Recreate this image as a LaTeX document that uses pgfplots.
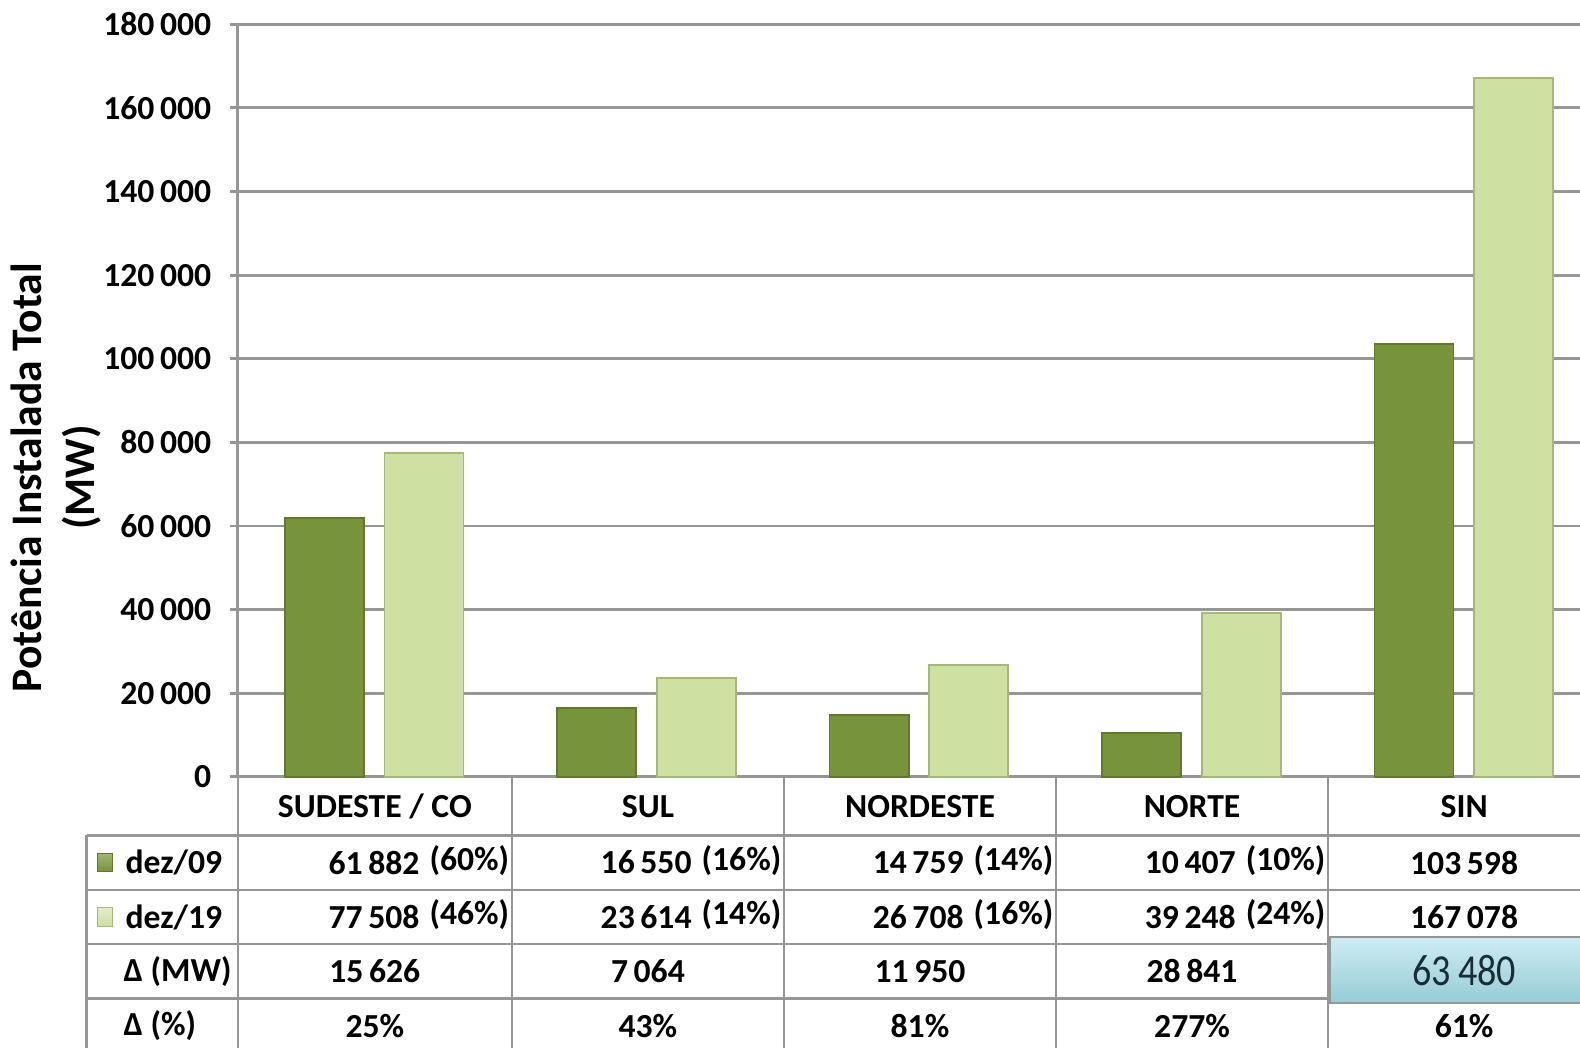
\documentclass[border=0pt]{standalone}
\usepackage{fontspec}
\setmainfont{Carlito}
\newfontfamily\cond{Carlito}[FakeStretch=0.86]
\usepackage{pgfplots}
\pgfplotsset{compat=1.18}

\definecolor{darkgr}{RGB}{119,147,60}
\definecolor{darkgredge}{RGB}{96,122,45}
\definecolor{lightgr}{RGB}{206,224,162}
\definecolor{lightgredge}{RGB}{165,184,120}
\definecolor{rulegray}{RGB}{150,150,150}
\definecolor{boxtop}{RGB}{205,236,242}
\definecolor{boxbot}{RGB}{150,204,214}
\definecolor{boxtext}{RGB}{25,45,55}

\begin{document}
\begin{tikzpicture}
% 1 px of the (displayed) reference = 0.01 cm, origin at the top left corner
\begin{axis}[
    at={(2.36cm,-7.71cm)}, anchor=south west,
    scale only axis,
    width=13.52cm, height=7.47cm,
    xmin=0, xmax=5, ymin=0, ymax=180000,
    axis x line*=bottom, axis y line*=left,
    axis line style={draw=rulegray, line width=0.8pt},
    ymajorgrids,
    grid style={draw=rulegray, line width=0.8pt},
    xtick=\empty,
    ytick={0,20000,...,180000},
    yticklabels={0,20\,000,40\,000,60\,000,80\,000,100\,000,120\,000,140\,000,160\,000,180\,000},
    yticklabel style={font=\bfseries\fontsize{9.5}{11}\selectfont, xshift=-0.06cm},
    tick align=outside,
    major tick length=0.08cm,
    tick style={draw=rulegray, line width=0.8pt},
    scaled y ticks=false,
    clip=false,
]
\addplot[ybar, bar width=0.29, bar shift=-0.183, draw=darkgredge, fill=darkgr, line width=0.5pt]
    coordinates {(0.5,61882) (1.5,16550) (2.5,14759) (3.5,10407) (4.5,103598)};
\addplot[ybar, bar width=0.29, bar shift=0.183, draw=lightgredge, fill=lightgr, line width=0.5pt]
    coordinates {(0.5,77508) (1.5,23614) (2.5,26708) (3.5,39248) (4.5,167078)};
\end{axis}

% data table under the bars
\begin{scope}[draw=rulegray, line width=0.7pt]
\draw (2.36,-7.71) -- (2.36,-10.6);
\draw (0.86,-8.29) -- (0.86,-10.6);
\foreach \y in {8.29,8.83,9.37,9.91} \draw (0.86,-\y) -- (16.2,-\y);
\foreach \x in {5.08,7.78,10.48,13.18} \draw (\x,-7.71) -- (\x,-10.6);
\end{scope}

\begin{scope}[font=\bfseries\fontsize{9.5}{11}\selectfont]
\foreach \c/\name in {3.72/{SUDESTE / CO}, 6.43/SUL, 9.13/NORDESTE, 11.83/NORTE, 14.53/SIN}
  \node at (\c,-8.00) {\name};
% dez/09 and dez/19 rows: value and share
\foreach \r/\v/\p in {5.08/61\,882/(60\%), 7.78/16\,550/(16\%), 10.48/14\,759/(14\%), 13.18/10\,407/(10\%)}{
  \node[anchor=east, inner sep=0pt] at (\r-0.91,-8.56) {\v};
  \node[anchor=east, inner sep=0pt] at (\r-0.02,-8.54) {\p};
}
\foreach \r/\v/\p in {5.08/77\,508/(46\%), 7.78/23\,614/(14\%), 10.48/26\,708/(16\%), 13.18/39\,248/(24\%)}{
  \node[anchor=east, inner sep=0pt] at (\r-0.91,-9.10) {\v};
  \node[anchor=east, inner sep=0pt] at (\r-0.02,-9.08) {\p};
}
\node at (14.53,-8.56) {103\,598};
\node at (14.53,-9.10) {167\,078};
\foreach \c/\v in {3.72/15\,626, 6.43/7\,064, 9.13/11\,950, 11.83/28\,841}
  \node at (\c,-9.64) {\v};
\foreach \c/\v in {3.72/25\%, 6.43/43\%, 9.13/81\%, 11.83/277\%, 14.53/61\%}
  \node at (\c,-10.18) {\v};
% row labels
\shade[top color=darkgr!70!white, bottom color=darkgr, draw=darkgredge, line width=0.3pt]
  (0.97,-8.47) rectangle (1.12,-8.65);
\shade[top color=lightgr!60!white, bottom color=lightgr, draw=lightgredge, line width=0.3pt]
  (0.97,-9.01) rectangle (1.12,-9.19);
\node[anchor=west, inner sep=0pt] at (1.24,-8.56) {dez/09};
\node[anchor=west, inner sep=0pt] at (1.24,-9.10) {dez/19};
\node[anchor=west, inner sep=0pt] at (1.22,-9.64) {Δ (MW)};
\node[anchor=west, inner sep=0pt] at (1.22,-10.18) {Δ (\%)};
\end{scope}

% highlighted total increase
\shade[top color=boxtop, bottom color=boxbot, draw=rulegray, line width=0.5pt]
  (13.20,-9.30) rectangle (16.2,-9.95);
\node[text=boxtext, font=\cond\fontsize{12.5}{14}\selectfont] at (14.53,-9.63) {63\,480};

% axis title
\node[rotate=90, align=center, font=\bfseries\fontsize{12.3}{15}\selectfont]
  at (0.56,-4.74) {Potência Instalada Total\\(MW)};

\pgfresetboundingbox
\path[use as bounding box] (0,0) rectangle (15.68,-10.40);
\end{tikzpicture}
\end{document}
